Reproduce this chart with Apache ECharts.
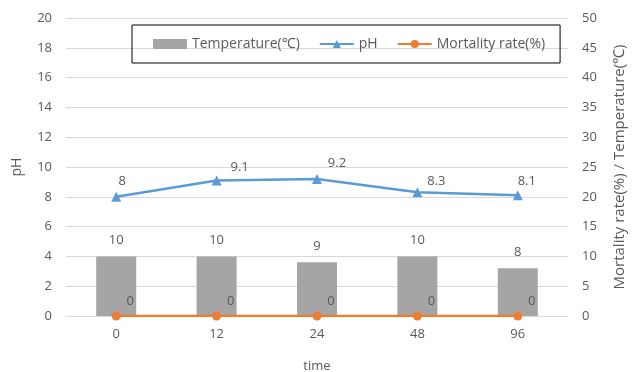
<!DOCTYPE html>
<html>
<head>
<meta charset="utf-8">
<script src="https://cdn.jsdelivr.net/npm/echarts@6/dist/echarts.min.js"></script>
<style>
  html, body { margin: 0; padding: 0; background: #fff; }
  #chart { width: 635px; height: 372px; }
</style>
</head>
<body>
<div id="chart"></div>
<script>
// Sampling times (h)
var times = ['0', '12', '24', '48', '96'];
// Water temperature at each sampling time (℃)
var temperature = [10, 10, 9, 10, 8];
// pH at each sampling time
var ph = [8, 9.1, 9.2, 8.3, 8.1];
// Mortality rate (%)
var mortality = [0, 0, 0, 0, 0];

// Label nudges for the pH values, in pixels
var phLabelShift = [[6, -2], [23, 0], [20, -2], [19, 2], [9, -1]];

var FONT = '"Open Sans", "Noto Sans", "Noto Sans CJK SC", sans-serif';
var TXT = '#595959';

var chart = echarts.init(document.getElementById('chart'), null, { renderer: 'canvas' });

chart.setOption({
  animation: false,
  textStyle: { fontFamily: FONT, color: TXT },
  grid: { left: 66, right: 67, top: 18, bottom: 56, containLabel: false, outerBoundsMode: 'none' },
  legend: {
    left: 132,
    top: 25,
    padding: [12, 15, 12, 21],
    itemGap: 19,
    itemWidth: 34,
    itemHeight: 10,
    borderColor: '#000',
    borderWidth: 1,
    textStyle: { fontFamily: FONT, fontSize: 14, color: TXT },
    data: [
      { name: 'Temperature(℃)', icon: 'rect' },
      { name: 'pH' },
      { name: 'Mortality rate(%)' }
    ]
  },
  xAxis: {
    type: 'category',
    data: times,
    name: 'time',
    nameLocation: 'middle',
    nameGap: 44,
    nameTextStyle: { fontFamily: FONT, fontSize: 13, color: TXT },
    axisLine: { lineStyle: { color: '#D9D9D9', width: 1 } },
    axisTick: { show: false },
    axisLabel: { fontFamily: FONT, fontSize: 13, color: TXT, margin: 12 }
  },
  yAxis: [
    {
      type: 'value',
      min: 0, max: 20, interval: 2,
      name: 'pH',
      nameLocation: 'middle',
      nameGap: 42,
      nameTextStyle: { fontFamily: FONT, fontSize: 14, color: TXT },
      axisLine: { show: false },
      axisTick: { show: false },
      axisLabel: { fontFamily: FONT, fontSize: 13, color: TXT, margin: 14 },
      splitLine: { lineStyle: { color: '#D9D9D9', width: 1 } }
    },
    {
      type: 'value',
      min: 0, max: 50, interval: 5,
      name: 'Mortality rate(%) / Temperature(℃)',
      nameLocation: 'middle',
      nameGap: 44,
      nameTextStyle: { fontFamily: FONT, fontSize: 15, color: TXT },
      axisLine: { show: false },
      axisTick: { show: false },
      axisLabel: { fontFamily: FONT, fontSize: 13, color: TXT, margin: 14 },
      splitLine: { show: false }
    }
  ],
  series: [
    {
      name: 'Temperature(℃)',
      type: 'bar',
      yAxisIndex: 1,
      data: temperature,
      barWidth: 40,
      itemStyle: { color: '#A5A5A5' },
      label: {
        show: true, position: 'top', distance: 10,
        fontFamily: FONT, fontSize: 13, color: TXT
      },
      z: 2
    },
    {
      name: 'pH',
      type: 'line',
      yAxisIndex: 0,
      data: ph.map(function (v, i) {
        return { value: v, label: { offset: phLabelShift[i] } };
      }),
      symbol: 'triangle',
      symbolSize: 10,
      lineStyle: { color: '#5B9BD5', width: 2.5 },
      itemStyle: { color: '#5B9BD5' },
      label: {
        show: true, position: 'top', distance: 2,
        fontFamily: FONT, fontSize: 13, color: TXT
      },
      z: 4
    },
    {
      name: 'Mortality rate(%)',
      type: 'line',
      yAxisIndex: 1,
      data: mortality,
      symbol: 'circle',
      symbolSize: 9,
      lineStyle: { color: '#ED7D31', width: 2.5 },
      itemStyle: { color: '#ED7D31' },
      label: {
        show: true, position: 'top', distance: 4, offset: [14, 0],
        fontFamily: FONT, fontSize: 13, color: TXT
      },
      z: 5
    }
  ]
});
</script>
</body>
</html>
